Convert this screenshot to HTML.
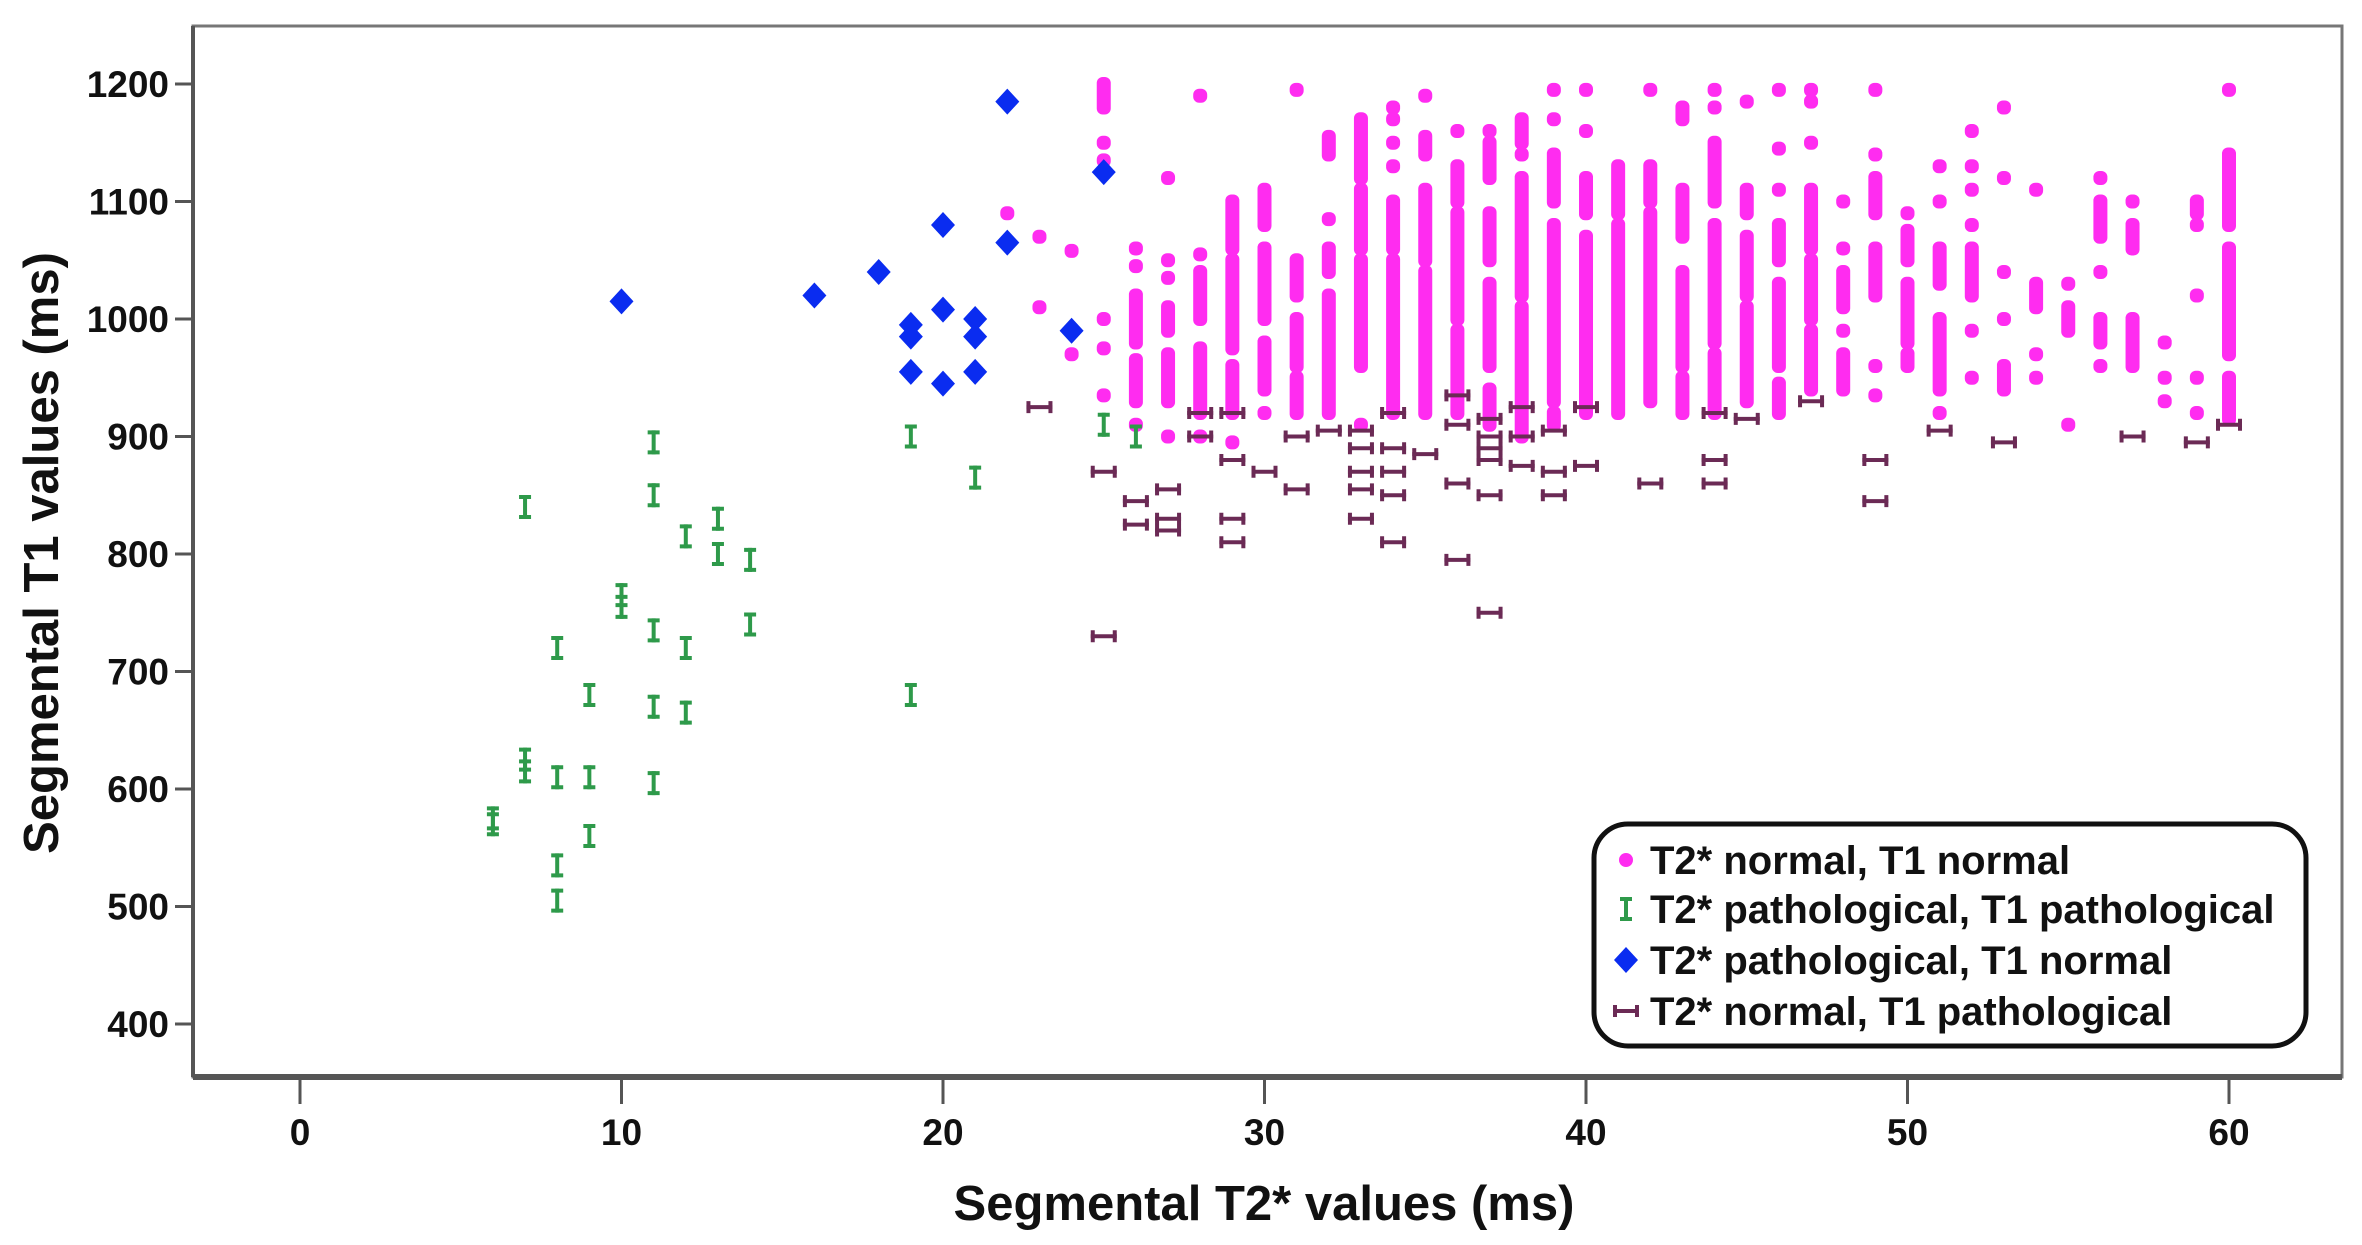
<!DOCTYPE html>
<html><head><meta charset="utf-8"><style>
html,body{margin:0;padding:0;background:#fff;}
svg{display:block;font-family:"Liberation Sans",Arial,sans-serif;}
</style></head><body>
<svg id="chart" width="2362" height="1245" viewBox="0 0 2362 1245" xmlns="http://www.w3.org/2000/svg">
<rect x="0" y="0" width="2362" height="1245" fill="#fff"/>
<g id="plot"></g>
</svg>
<script>
// axis ticks
const xTicks = [0,10,20,30,40,50,60];
const yTicks = [400,500,600,700,800,900,1000,1100,1200];
// T2* normal, T1 normal: clusters of overlapping points [x, yHigh, yLow]
const normalRuns = [
[22,1090,1090],[23,1070,1070],[23,1010,1010],[24,1058,1058],[24,970,970],
[25,1200,1180],[25,1150,1150],[25,1135,1135],[25,1000,1000],[25,975,975],[25,935,935],
[26,1060,1060],[26,1045,1045],[26,1020,980],[26,965,930],[26,910,910],
[27,1120,1120],[27,1050,1050],[27,1035,1035],[27,1010,990],[27,970,930],[27,900,900],
[28,1190,1190],[28,1055,1055],[28,1040,1000],[28,975,920],[28,900,900],
[29,1100,1060],[29,1050,975],[29,960,920],[29,895,895],
[30,1110,1080],[30,1060,1000],[30,980,940],[30,920,920],
[31,1195,1195],[31,1050,1020],[31,1000,960],[31,950,920],
[32,1155,1140],[32,1085,1085],[32,1060,1040],[32,1020,920],
[33,1170,1120],[33,1110,1060],[33,1050,960],[33,910,910],
[34,1180,1180],[34,1170,1170],[34,1150,1150],[34,1130,1130],[34,1100,1060],[34,1050,920],
[35,1190,1190],[35,1155,1140],[35,1110,1050],[35,1040,920],
[36,1160,1160],[36,1130,1100],[36,1090,1000],[36,990,920],
[37,1160,1160],[37,1150,1120],[37,1090,1050],[37,1030,960],[37,940,910],
[38,1170,1150],[38,1140,1140],[38,1120,1020],[38,1010,900],
[39,1195,1195],[39,1170,1170],[39,1140,1100],[39,1080,930],[39,920,910],
[40,1195,1195],[40,1160,1160],[40,1120,1090],[40,1070,920],
[41,1130,1090],[41,1080,920],
[42,1195,1195],[42,1130,1100],[42,1090,930],
[43,1180,1170],[43,1110,1070],[43,1040,960],[43,950,920],
[44,1195,1195],[44,1180,1180],[44,1150,1100],[44,1080,980],[44,970,920],
[45,1185,1185],[45,1110,1090],[45,1070,1020],[45,1010,930],
[46,1195,1195],[46,1145,1145],[46,1110,1110],[46,1080,1050],[46,1030,960],[46,945,920],
[47,1195,1195],[47,1185,1185],[47,1150,1150],[47,1110,1060],[47,1050,1000],[47,990,940],
[48,1100,1100],[48,1060,1060],[48,1040,1010],[48,990,990],[48,970,940],
[49,1195,1195],[49,1140,1140],[49,1120,1090],[49,1060,1020],[49,960,960],[49,935,935],
[50,1090,1090],[50,1075,1050],[50,1030,980],[50,970,960],
[51,1130,1130],[51,1100,1100],[51,1060,1030],[51,1000,940],[51,920,920],
[52,1160,1160],[52,1130,1130],[52,1110,1110],[52,1080,1080],[52,1060,1020],[52,990,990],[52,950,950],
[53,1180,1180],[53,1120,1120],[53,1040,1040],[53,1000,1000],[53,960,940],
[54,1110,1110],[54,1030,1010],[54,970,970],[54,950,950],
[55,1030,1030],[55,1010,990],[55,910,910],
[56,1120,1120],[56,1100,1070],[56,1040,1040],[56,1000,980],[56,960,960],
[57,1100,1100],[57,1080,1060],[57,1000,960],
[58,980,980],[58,950,950],[58,930,930],
[59,1100,1090],[59,1080,1080],[59,1020,1020],[59,950,950],[59,920,920],
[60,1195,1195],[60,1140,1080],[60,1060,970],[60,950,915]
];
// T2* pathological, T1 pathological
const pathPathX = [6,6,7,7,7,8,8,8,8,9,9,9,10,10,11,11,11,11,11,12,12,12,13,13,14,14,19,19,21,25,26];
const pathPathY = [575,570,840,625,615,720,610,535,505,680,610,560,765,755,895,850,735,670,605,815,720,665,830,800,795,740,900,680,865,910,900];
// T2* pathological, T1 normal
const pathNormX = [10,16,18,20,22,22,25,19,19,19,20,20,21,21,21,24];
const pathNormY = [1015,1020,1040,1080,1185,1065,1125,995,985,955,1008,945,1000,985,955,990];
// T2* normal, T1 pathological
const normPathX = [23,25,25,26,26,27,27,27,28,28,29,29,29,29,30,31,31,32,33,33,33,33,33,34,34,34,34,34,35,36,36,36,36,37,37,37,37,37,37,38,38,38,39,39,39,40,40,42,44,44,44,45,47,49,49,51,53,57,59,60];
const normPathY = [925,870,730,845,825,855,830,820,920,900,920,880,830,810,870,900,855,905,905,890,870,855,830,920,890,870,850,810,885,935,910,860,795,915,900,890,880,850,750,925,900,875,905,870,850,925,875,860,920,880,860,915,930,880,845,905,895,900,895,910];

const NS='http://www.w3.org/2000/svg';
const plot=document.getElementById('plot');
const L=193,R=2342,T=26,B=1077;
const sx=v=>300+v*32.15;
const sy=v=>84+(1200-v)*1.175;
function mk(tag,attrs,parent){const e=document.createElementNS(NS,tag);for(const k in attrs)e.setAttribute(k,attrs[k]);(parent||plot).appendChild(e);return e;}

let fr=mk('rect',{x:L,y:T,width:R-L,height:B-T,fill:'none',stroke:'#777','stroke-width':3});


let xl=mk('line',{x1:L,y1:B,x2:R,y2:B,stroke:'#555','stroke-width':6});


let yl=mk('line',{x1:L,y1:T,x2:L,y2:B,stroke:'#555','stroke-width':4});



xTicks.forEach(t=>{
  const x=sx(t);
  let tk=mk('line',{x1:x,y1:B,x2:x,y2:B+27,stroke:'#555','stroke-width':3});
  
  
  let tx=mk('text',{x:x,y:B+68,'text-anchor':'middle','font-size':37,'font-weight':'bold',fill:'#111'});
  tx.textContent=t;
  
  
});
yTicks.forEach(t=>{
  const y=sy(t);
  let tk=mk('line',{x1:L-18,y1:y,x2:L,y2:y,stroke:'#555','stroke-width':3});
  
  
  let tx=mk('text',{x:L-24,y:y+13,'text-anchor':'end','font-size':37,'font-weight':'bold',fill:'#111'});
  tx.textContent=t;
  
  
});

function dotRun(x,yh,yl2){
  return mk('rect',{x:sx(x)-7,y:sy(yh)-7,width:14,height:sy(yl2)-sy(yh)+14,rx:6,fill:'#ff2cf0'});
}
function iBeam(cx,cy,color,horiz,parent){
  const g=mk('g',{},parent);
  if(!horiz){
    mk('rect',{x:cx-6,y:cy-12,width:12,height:4,fill:color},g);
    mk('rect',{x:cx-6,y:cy+8,width:12,height:4,fill:color},g);
    mk('rect',{x:cx-2,y:cy-12,width:4,height:24,fill:color},g);
  }else{
    mk('rect',{x:cx-13,y:cy-6,width:4,height:12,fill:color},g);
    mk('rect',{x:cx+9,y:cy-6,width:4,height:12,fill:color},g);
    mk('rect',{x:cx-13,y:cy-2,width:26,height:4,fill:color},g);
  }
  return g;
}
function diamond(cx,cy,parent){
  return mk('path',{d:`M${cx} ${cy-13}L${cx+12} ${cy}L${cx} ${cy+13}L${cx-12} ${cy}Z`,fill:'#0a2cf0'},parent);
}
normalRuns.forEach(r=>{
  const e=dotRun(r[0],r[1],r[2]);
  
  
});
normPathX.forEach((x,i)=>{
  const e=iBeam(sx(x),sy(normPathY[i]),'#6b2a55',true);
  
  
});
pathPathX.forEach((x,i)=>{
  const e=iBeam(sx(x),sy(pathPathY[i]),'#2e9a4a',false);
  
  
});
pathNormX.forEach((x,i)=>{
  const e=diamond(sx(x),sy(pathNormY[i]));
  
  
});

let xt=mk('text',{x:1264,y:1220,'text-anchor':'middle','font-size':49,'font-weight':'bold',fill:'#111'});
xt.textContent='Segmental T2* values (ms)';


let yt=mk('text',{x:0,y:0,'text-anchor':'middle','font-size':49,'font-weight':'bold',fill:'#111',transform:'translate(58,553) rotate(-90)'});
yt.textContent='Segmental T1 values (ms)';



const lg=mk('g',{});


mk('rect',{x:1594,y:824,width:712,height:222,rx:34,fill:'#fff',stroke:'#111','stroke-width':5},lg);
const labels=['T2* normal, T1 normal','T2* pathological, T1 pathological','T2* pathological, T1 normal','T2* normal, T1 pathological'];
const rows=[864,913,964,1015];
labels.forEach((s,i)=>{
  const y=rows[i];
  let m;
  if(i===0){m=mk('circle',{cx:1626,cy:y-4,r:7,fill:'#ff2cf0'},lg);}
  else if(i===1){m=iBeam(1626,y-4,'#2e9a4a',false,lg);}
  else if(i===2){m=diamond(1626,y-4,lg);}
  else {m=iBeam(1626,y-4,'#6b2a55',true,lg);}
  
  
  const t=mk('text',{x:1650,y:y+10,'font-size':40,'font-weight':'bold',fill:'#111'},lg);
  t.textContent=s;
  
  
});
</script>
</body></html>
